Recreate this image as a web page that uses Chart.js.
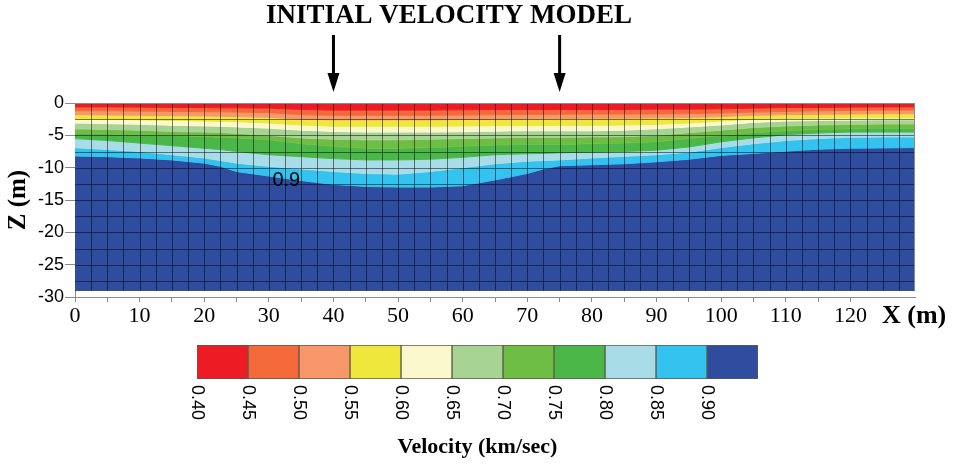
<!DOCTYPE html>
<html lang="en">
<head>
  <meta charset="UTF-8">
  <title>Initial Velocity Model</title>
  <script src="https://cdn.jsdelivr.net/npm/chart.js"></script>
  <style>
    body { margin: 0; background: #fff; }
    .wrap { position: relative; width: 956px; height: 464px; }
    #model { position: absolute; left: 0; top: 0; }
    #scale { position: absolute; left: 0; top: 335px; }
  </style>
</head>
<body>

  <div class="wrap">
    <canvas id="model" width="956" height="335"></canvas>
    <canvas id="scale" width="956" height="129"></canvas>
  </div>

  <script>
    // distance along the line (m)
    const distances = [0, 5, 10, 15, 20, 22.5, 25, 30, 35, 40, 45, 50, 55, 60, 65, 70, 72.5, 75, 80, 85, 90, 95, 100, 105, 110, 115, 120, 125, 130];

    // depth (m) of each velocity contour along the line
    const depth045 = [-0.6, -0.6, -0.65, -0.7, -0.7, -0.75, -0.75, -0.8, -1.0, -1.1, -1.1, -1.1, -1.1, -1.05, -1.0, -1.0, -1.0, -1.0, -1.0, -1.0, -0.95, -0.95, -0.9, -0.8, -0.7, -0.7, -0.65, -0.6, -0.6];
    const depth050 = [-1.2, -1.2, -1.25, -1.3, -1.35, -1.35, -1.4, -1.5, -1.8, -1.9, -1.9, -1.9, -1.9, -1.85, -1.8, -1.75, -1.75, -1.75, -1.7, -1.7, -1.7, -1.65, -1.55, -1.4, -1.3, -1.2, -1.15, -1.1, -1.1];
    const depth055 = [-1.8, -1.85, -1.9, -1.95, -2.0, -2.05, -2.1, -2.2, -2.5, -2.6, -2.6, -2.6, -2.6, -2.55, -2.5, -2.45, -2.45, -2.4, -2.35, -2.35, -2.3, -2.25, -2.1, -1.9, -1.8, -1.75, -1.7, -1.65, -1.65];
    const depth060 = [-2.5, -2.5, -2.6, -2.7, -2.8, -2.85, -2.9, -3.1, -3.4, -3.6, -3.6, -3.6, -3.6, -3.55, -3.5, -3.5, -3.5, -3.45, -3.45, -3.4, -3.3, -3.1, -2.8, -2.5, -2.4, -2.35, -2.3, -2.3, -2.3];
    const depth065 = [-3.1, -3.2, -3.3, -3.45, -3.55, -3.6, -3.7, -3.9, -4.2, -4.4, -4.5, -4.5, -4.5, -4.45, -4.35, -4.3, -4.3, -4.3, -4.3, -4.2, -4.0, -3.7, -3.4, -3.0, -2.8, -2.7, -2.65, -2.6, -2.6];
    const depth070 = [-4.0, -4.1, -4.2, -4.4, -4.5, -4.55, -4.7, -5.0, -5.4, -5.6, -5.7, -5.7, -5.6, -5.5, -5.4, -5.3, -5.3, -5.3, -5.25, -5.2, -5.0, -4.6, -4.2, -3.8, -3.55, -3.4, -3.3, -3.25, -3.25];
    const depth075 = [-4.7, -4.8, -4.9, -5.0, -5.2, -5.3, -5.4, -5.7, -6.3, -6.7, -7.0, -7.0, -6.9, -6.7, -6.5, -6.4, -6.4, -6.4, -6.3, -6.2, -6.0, -5.5, -5.0, -4.6, -4.3, -4.1, -4.0, -3.9, -3.9];
    const depth080 = [-5.5, -5.8, -6.2, -6.6, -7.0, -7.2, -7.5, -8.0, -8.3, -8.6, -8.8, -8.8, -8.7, -8.4, -8.0, -7.85, -7.8, -7.7, -7.6, -7.5, -7.3, -6.8, -6.0, -5.4, -4.9, -4.65, -4.5, -4.5, -4.5];
    const depth085 = [-6.9, -7.2, -7.5, -8.0, -8.5, -8.9, -9.3, -9.8, -10.2, -10.6, -10.9, -11.0, -10.6, -10.0, -9.4, -9.0, -8.9, -8.8, -8.5, -8.25, -8.0, -7.6, -6.9, -6.3, -5.8, -5.5, -5.3, -5.25, -5.25];
    const depth090 = [-8.2, -8.3, -8.5, -8.8, -9.3, -9.8, -10.6, -11.3, -12.0, -12.6, -12.9, -13.0, -13.0, -12.8, -11.9, -10.9, -10.2, -9.7, -9.55, -9.4, -9.1, -8.7, -8.1, -7.8, -7.45, -7.15, -7.0, -6.95, -6.9];

    const contours = [depth045, depth050, depth055, depth060, depth065, depth070, depth075, depth080, depth085, depth090];

    // colour scale (km/sec)
    const velocityEdges = [0.40, 0.45, 0.50, 0.55, 0.60, 0.65, 0.70, 0.75, 0.80, 0.85, 0.90, 0.95];
    const velocityLabels = ['0.40', '0.45', '0.50', '0.55', '0.60', '0.65', '0.70', '0.75', '0.80', '0.85', '0.90'];
    const layerColors = ['#ED1C24', '#F3693A', '#F7976A', '#EEE83C', '#FCF8CE', '#A7D492', '#6EBE45', '#4BB748', '#A8DDE7', '#34C3EF', '#2F4C9F'];

    const xTickValues = [0, 5, 10, 15, 20, 25, 30, 35, 40, 45, 50, 55, 60, 65, 70, 75, 80, 85, 90, 95, 100, 105, 110, 115, 120];
    const arrowDistances = [40, 75];

    const modelBottom = -29;
    const modelRight = 130;
    const meshStep = 2.5;

    const serif = '"Liberation Serif", "Times New Roman", serif';
    const sans = '"Liberation Sans", Arial, sans-serif';

    function points(depths) {
      return distances.map((d, i) => ({ x: d, y: depths[i] }));
    }

    const datasets = contours.map((depths, i) => ({
      data: points(depths),
      fill: i === 0 ? 'end' : '-1',
      backgroundColor: layerColors[i],
      borderColor: layerColors[i],
      borderWidth: 1
    }));
    // deepest layer, from the 0.90 contour down to the base of the model
    datasets.push({
      data: points(depth090),
      fill: { value: modelBottom },
      backgroundColor: layerColors[10],
      borderColor: layerColors[10],
      borderWidth: 1
    });

    const modelDecor = {
      id: 'modelDecor',
      afterDatasetsDraw(chart) {
        const { ctx, scales: { x, y } } = chart;
        const left = x.getPixelForValue(0);
        const right = x.getPixelForValue(modelRight);
        const top = y.getPixelForValue(0);
        const bottom = y.getPixelForValue(modelBottom);
        ctx.save();
        ctx.lineWidth = 1;
        ctx.strokeStyle = 'rgba(0, 0, 0, 0.5)';
        ctx.beginPath();
        for (let v = meshStep; v < modelRight; v += meshStep) {
          const px = Math.round(x.getPixelForValue(v)) + 0.5;
          ctx.moveTo(px, top);
          ctx.lineTo(px, bottom);
        }
        for (let v = -meshStep; v > modelBottom; v -= meshStep) {
          const py = Math.round(y.getPixelForValue(v)) + 0.5;
          ctx.moveTo(left, py);
          ctx.lineTo(right, py);
        }
        ctx.moveTo(left, Math.round(bottom) - 0.5);
        ctx.lineTo(right, Math.round(bottom) - 0.5);
        ctx.stroke();

        ctx.strokeStyle = '#8a8a8a';
        ctx.beginPath();
        ctx.moveTo(left, Math.round(top) + 0.5);
        ctx.lineTo(right, Math.round(top) + 0.5);
        ctx.moveTo(Math.round(right) - 0.5, top);
        ctx.lineTo(Math.round(right) - 0.5, bottom);
        ctx.stroke();
        ctx.restore();
      },
      afterDraw(chart) {
        const { ctx, chartArea, scales: { x, y } } = chart;
        ctx.save();
        ctx.fillStyle = '#000';

        ctx.font = 'bold 27px ' + serif;
        ctx.textAlign = 'center';
        ctx.textBaseline = 'alphabetic';
        ctx.fillText('INITIAL VELOCITY MODEL', 449, 23);

        arrowDistances.forEach(d => {
          const px = x.getPixelForValue(d);
          ctx.fillRect(px - 1.5, 35, 3, 40);
          ctx.beginPath();
          ctx.moveTo(px - 6, 73);
          ctx.lineTo(px + 6, 73);
          ctx.lineTo(px, 92);
          ctx.closePath();
          ctx.fill();
        });

        ctx.font = '20px ' + sans;
        ctx.textBaseline = 'middle';
        ctx.fillText('0.9', x.getPixelForValue(32.7), y.getPixelForValue(-11.95));

        ctx.font = 'bold 26px ' + serif;
        ctx.textAlign = 'left';
        ctx.textBaseline = 'alphabetic';
        ctx.fillText('X (m)', chartArea.right - 33, 323);
        ctx.restore();
      }
    };

    new Chart(document.getElementById('model'), {
      type: 'line',
      data: { datasets: datasets },
      options: {
        responsive: false,
        animation: false,
        devicePixelRatio: 1,
        layout: { padding: { left: 0, right: 41, top: 103, bottom: 0 } },
        elements: { point: { radius: 0 }, line: { tension: 0 } },
        plugins: {
          legend: { display: false },
          tooltip: { enabled: false }
        },
        scales: {
          x: {
            type: 'linear',
            min: 0,
            max: modelRight,
            afterFit: s => { s.height = 38; },
            afterBuildTicks: s => { s.ticks = xTickValues.map(v => ({ value: v })); },
            ticks: {
              autoSkip: false,
              maxRotation: 0,
              padding: 1,
              color: '#000',
              font: { family: serif, size: 22 },
              callback: v => (v % 10 === 0 ? v : '')
            },
            grid: { drawOnChartArea: false, tickLength: 5, color: '#8a8a8a' },
            border: { color: '#8a8a8a' }
          },
          y: {
            min: -30,
            max: 0,
            afterFit: s => { s.width = 75; },
            ticks: {
              stepSize: 5,
              padding: 1,
              color: '#000',
              font: { family: sans, size: 18 }
            },
            grid: { drawOnChartArea: false, tickLength: 10, color: '#8a8a8a' },
            border: { color: '#8a8a8a' },
            title: {
              display: true,
              text: 'Z (m)',
              color: '#000',
              padding: { top: 6, bottom: 0 },
              font: { family: serif, size: 25, weight: 'bold', lineHeight: 1 }
            }
          }
        }
      },
      plugins: [modelDecor]
    });

    const scaleLabels = {
      id: 'scaleLabels',
      afterDraw(chart) {
        const { ctx, chartArea, scales: { x } } = chart;
        ctx.save();
        ctx.fillStyle = '#000';
        ctx.font = '18px ' + sans;
        ctx.textAlign = 'left';
        ctx.textBaseline = 'middle';
        velocityLabels.forEach(label => {
          ctx.save();
          ctx.translate(x.getPixelForValue(parseFloat(label)), chartArea.bottom + 6);
          ctx.rotate(Math.PI / 2);
          ctx.fillText(label, 0, 0);
          ctx.restore();
        });
        ctx.font = 'bold 22px ' + serif;
        ctx.textAlign = 'center';
        ctx.textBaseline = 'alphabetic';
        ctx.fillText('Velocity (km/sec)', (chartArea.left + chartArea.right) / 2, 118);
        ctx.restore();
      }
    };

    new Chart(document.getElementById('scale'), {
      type: 'bar',
      data: {
        labels: [''],
        datasets: layerColors.map((c, i) => ({
          data: [[velocityEdges[i], velocityEdges[i + 1]]],
          backgroundColor: c,
          borderColor: '#5a5a4a',
          borderWidth: 1,
          borderSkipped: false,
          grouped: false,
          barPercentage: 1,
          categoryPercentage: 1
        }))
      },
      options: {
        indexAxis: 'y',
        responsive: false,
        animation: false,
        devicePixelRatio: 1,
        layout: { padding: { left: 197, right: 198, top: 10, bottom: 85 } },
        plugins: {
          legend: { display: false },
          tooltip: { enabled: false }
        },
        scales: {
          x: { type: 'linear', min: velocityEdges[0], max: velocityEdges[velocityEdges.length - 1], display: false },
          y: { display: false }
        }
      },
      plugins: [scaleLabels]
    });
  </script>

</body>
</html>
